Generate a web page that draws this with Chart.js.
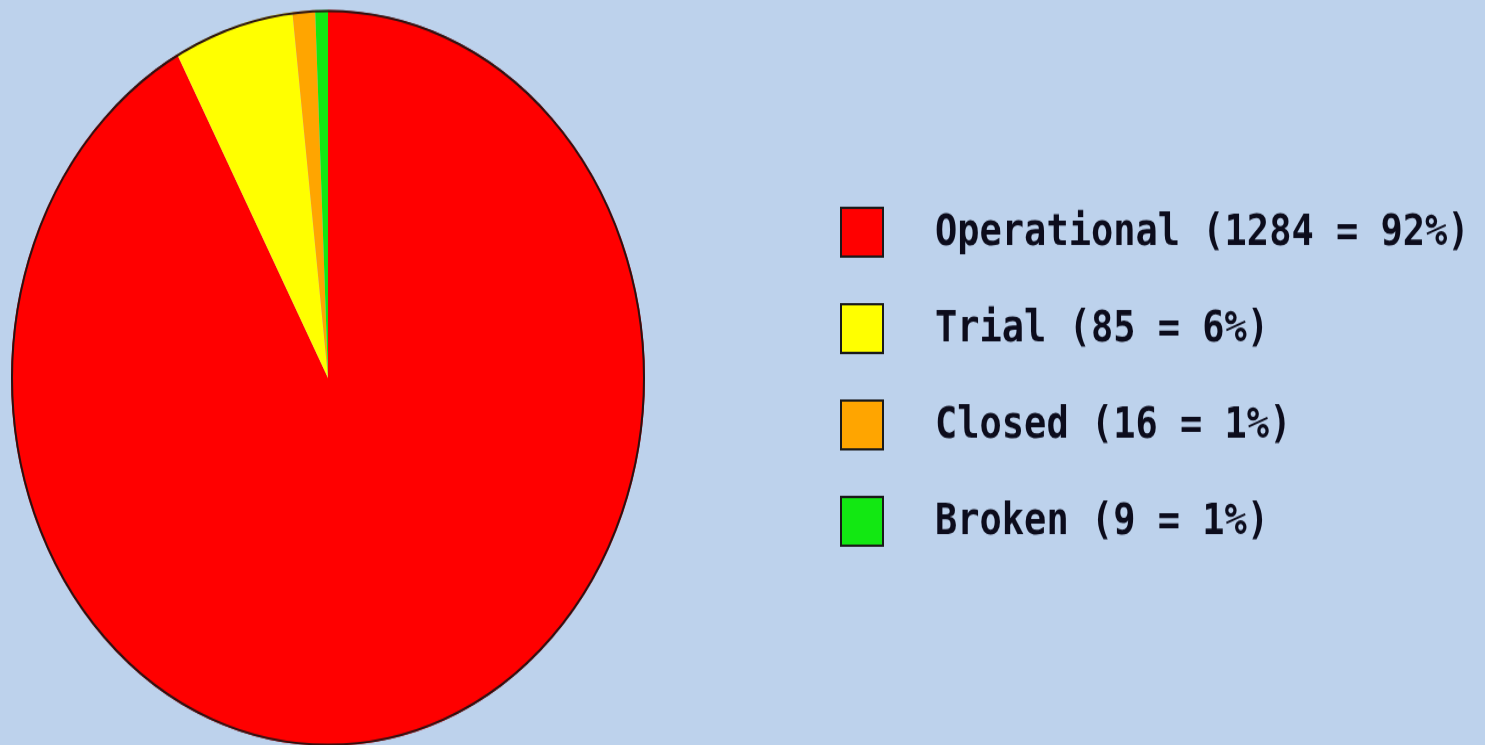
<!DOCTYPE html>
<html>
<head>
<meta charset="utf-8">
<script src="https://cdn.jsdelivr.net/npm/chart.js@4"></script>
<style>
    html, body { margin: 0; padding: 0; background: #bdd2ec; overflow: hidden; width: 1485px; height: 745px; }
    #wrap { transform: scaleY(1.161); transform-origin: 0 0; width: 1485px; height: 650px; }
</style>
</head>
<body>
<div id="wrap"><canvas id="pieChart" width="1485" height="650"></canvas></div>
<script>
    let etiquetas = ['Operational', 'Trial', 'Closed', 'Broken'];
    let valores = [1284, 85, 16, 9];
    let colores = ['#ff0000', '#ffff00', '#ffa500', '#12e812'];

    let total = valores.reduce((acc, cur) => acc + cur, 0);

    // contorno oscuro del pastel, sin lineas entre porciones
    const contorno = {
        id: 'contorno',
        afterDatasetsDraw(chart) {
            let arc = chart.getDatasetMeta(0).data[0];
            let ctx = chart.ctx;
            ctx.save();
            ctx.beginPath();
            ctx.arc(arc.x, arc.y, arc.outerRadius - 1, 0, Math.PI * 2);
            ctx.lineWidth = 2;
            ctx.strokeStyle = '#2a1212';
            ctx.stroke();
            ctx.restore();
        }
    };

    // leyenda dibujada a mano a la derecha
    const leyenda = {
        id: 'leyenda',
        afterDraw(chart) {
            let ctx = chart.ctx;
            let datos = chart.data.datasets[0].data;
            ctx.save();
            ctx.font = 'bold 37px "DejaVu Sans Mono"';
            ctx.textBaseline = 'middle';
            chart.data.labels.forEach((label, i) => {
                let y = 200 + i * 83;
                ctx.fillStyle = chart.data.datasets[0].backgroundColor[i];
                ctx.fillRect(841, y - 21, 42, 42);
                ctx.lineWidth = 2;
                ctx.strokeStyle = '#1a1a1a';
                ctx.strokeRect(841, y - 21, 42, 42);
                let pct = Math.round(datos[i] * 100 / total);
                ctx.fillStyle = '#0c0c1c';
                ctx.fillText(label + ' (' + datos[i] + ' = ' + pct + '%)', 935, y + 1);
            });
            ctx.restore();
        }
    };

    var ctx = document.getElementById('pieChart').getContext('2d');
    new Chart(ctx, {
        type: 'pie',
        data: {
            labels: etiquetas,
            datasets: [{
                data: valores,
                backgroundColor: colores,
                borderWidth: 0
            }]
        },
        options: {
            responsive: false,
            animation: false,
            layout: { padding: { left: 11, right: 840, top: 8.6, bottom: 7.4 } },
            plugins: {
                legend: { display: false },
                tooltip: { enabled: false }
            }
        },
        plugins: [contorno, leyenda]
    });
</script>
</body>
</html>
